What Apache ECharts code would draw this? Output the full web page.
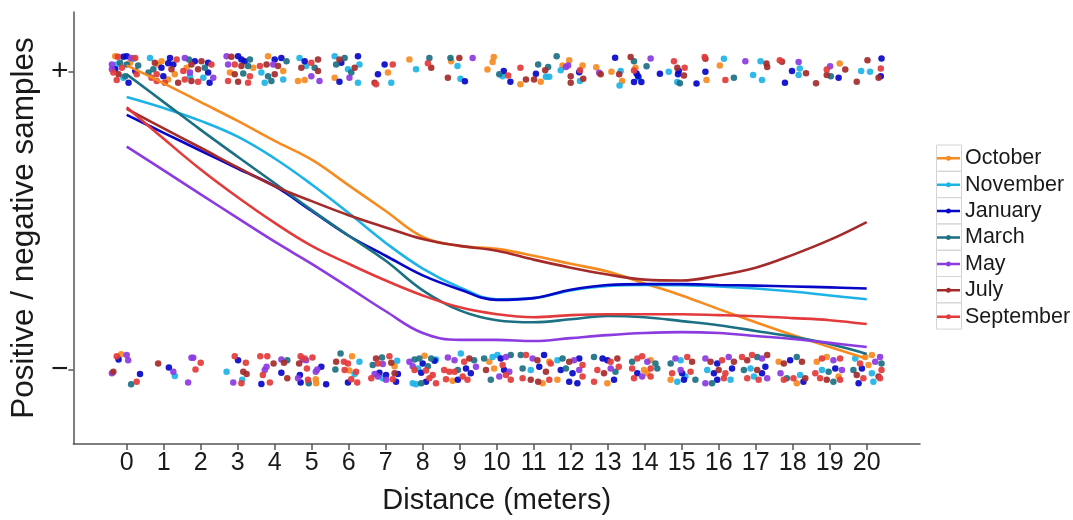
<!DOCTYPE html>
<html><head><meta charset="utf-8">
<script src="https://cdn.jsdelivr.net/npm/echarts@6/dist/echarts.min.js"></script>
<style>html,body{margin:0;padding:0;background:#fff}#c{width:1073px;height:520px}</style>
</head><body><div id="c"></div>
<script>
const months = ['October','November','January','March','May','July','September'];
const monthColors = ['#F68B1F','#1DB3E6','#0707C8','#1B7083','#8B3BDF','#A52A2A','#E33B3B'];
const distance = [0,1,2,3,4,5,6,7,8,9,10,11,12,13,14,15,16,17,18,19,20];
const yTickValues = [0, 1];
const yTickLabels = ['−', '+'];

// smoothed fits (probability of positive sample) at each distance
const octoberFit   = [1.020,0.960,0.897,0.834,0.767,0.704,0.618,0.532,0.445,0.415,0.405,0.382,0.355,0.329,0.289,0.249,0.203,0.159,0.116,0.076,0.037];
const novemberFit  = [0.914,0.877,0.834,0.781,0.708,0.621,0.525,0.425,0.339,0.276,0.236,0.240,0.266,0.281,0.284,0.283,0.279,0.272,0.262,0.249,0.236];
const januaryFit   = [0.854,0.794,0.734,0.674,0.615,0.532,0.449,0.382,0.316,0.269,0.234,0.240,0.268,0.284,0.287,0.287,0.284,0.282,0.279,0.276,0.272];
const marchFit     = [0.990,0.897,0.804,0.714,0.625,0.535,0.449,0.365,0.266,0.199,0.166,0.159,0.169,0.180,0.176,0.163,0.149,0.130,0.110,0.086,0.053];
const mayFit       = [0.748,0.668,0.588,0.508,0.429,0.355,0.276,0.196,0.123,0.100,0.100,0.096,0.106,0.116,0.123,0.126,0.123,0.113,0.103,0.090,0.076];
const julyFit      = [0.874,0.809,0.744,0.678,0.615,0.565,0.518,0.477,0.438,0.415,0.399,0.369,0.342,0.319,0.302,0.299,0.316,0.342,0.385,0.435,0.495];
const septemberFit = [0.880,0.774,0.671,0.578,0.492,0.415,0.355,0.299,0.249,0.209,0.186,0.176,0.183,0.186,0.186,0.186,0.183,0.179,0.173,0.166,0.153];

// jittered observations: positive samples (near 1) and negative samples (near 0)
const octoberPos = [[-0.31,1.051],[0.09,1.029],[0.85,1.023],[1.12,0.973],[1.30,0.990],[0.94,1.034],[1.62,1.012],[3.42,1.012],[2.79,0.996],[3.82,1.051],[4.23,1.001],[4.63,0.968],[4.81,0.971],[5.62,0.979],[7.06,0.996],[7.64,1.040],[8.77,1.034],[9.75,1.006],[9.89,1.031],[9.92,1.048],[10.64,0.957],[11.19,0.965],[11.78,1.020],[11.96,1.037],[12.32,1.020],[12.69,1.014],[13.10,0.999],[13.39,0.968],[13.75,1.012],[15.67,0.971],[16.03,1.020],[19.27,1.026]];
const octoberNeg = [[-0.15,0.052],[5.11,-0.032],[5.12,-0.045],[6.09,0.045],[6.02,-0.003],[7.24,0.012],[8.05,0.047],[8.81,-0.037],[9.80,0.027],[9.93,0.004],[11.42,0.027],[11.24,-0.045],[11.64,-0.034],[12.99,-0.045],[14.16,0.032],[13.98,-0.001],[14.07,-0.012],[14.70,-0.034],[17.62,0.027],[18.11,-0.045],[18.65,0.027],[18.92,0.043],[19.24,-0.023],[19.96,0.043],[20.14,0.049],[20.05,0.016]];
const novemberPos = [[-0.27,1.023],[-0.09,0.979],[0.18,1.042],[0.63,1.045],[1.71,0.984],[2.07,0.979],[3.64,0.996],[3.73,0.962],[4.23,0.973],[4.67,1.045],[4.85,1.018],[5.62,1.051],[5.98,1.007],[6.29,1.023],[6.25,0.962],[7.15,0.962],[7.82,1.007],[8.94,1.018],[9.02,0.975],[10.16,0.984],[11.33,0.982],[11.42,0.982],[11.73,1.004],[12.25,0.968],[13.35,1.001],[13.32,0.953],[13.84,0.979],[14.65,0.999],[14.88,0.964],[16.14,1.042],[16.93,0.988],[17.13,1.034],[17.17,0.971],[18.19,1.010],[18.16,0.988],[19.85,1.001],[20.09,0.999]];
const novemberNeg = [[1.30,-0.021],[2.70,-0.007],[3.12,-0.034],[6.29,0.027],[6.16,-0.014],[7.31,0.030],[6.92,-0.029],[8.36,0.034],[7.87,0.004],[7.73,-0.045],[7.82,-0.049],[9.03,0.054],[9.89,0.043],[10.02,0.049],[10.92,-0.001],[11.64,0.032],[14.97,0.032],[15.10,-0.023],[14.88,-0.040],[15.69,-0.001],[16.32,-0.034],[16.86,0.004],[16.95,-0.023],[18.20,-0.018],[18.79,-0.001],[19.69,0.038],[20.14,-0.012],[20.18,-0.040]];
const januaryPos = [[-0.31,1.007],[-0.09,1.049],[0.00,1.051],[0.05,0.962],[0.23,1.001],[0.94,1.012],[0.99,0.984],[1.12,1.027],[1.17,1.045],[1.26,1.023],[1.84,1.034],[2.20,1.029],[2.20,0.996],[2.24,0.962],[3.01,1.051],[3.10,1.040],[3.19,1.034],[4.00,1.040],[4.18,1.045],[4.81,1.034],[5.75,0.965],[5.80,1.029],[6.25,1.051],[6.79,0.990],[6.97,1.023],[9.14,0.967],[10.19,1.001],[10.37,0.965],[11.06,0.992],[12.23,0.997],[13.20,1.046],[13.71,0.964],[13.78,0.993],[13.82,0.984],[13.91,0.964],[14.41,0.992],[14.90,0.990],[14.92,1.001],[15.40,0.959],[15.64,0.999],[17.79,0.962],[17.98,1.001],[19.24,0.979],[20.38,0.984],[20.40,1.043]];
const januaryNeg = [[-0.22,0.034],[0.36,-0.014],[1.14,0.007],[3.01,0.032],[3.64,-0.048],[4.18,-0.010],[4.68,-0.018],[4.70,-0.043],[5.26,0.010],[5.39,-0.049],[5.98,-0.043],[6.83,-0.010],[7.01,-0.018],[7.28,-0.040],[7.33,-0.014],[7.96,-0.010],[8.00,0.021],[8.09,-0.040],[8.32,0.030],[8.95,-0.034],[9.17,0.004],[9.30,-0.012],[10.11,0.038],[10.20,-0.001],[11.15,0.010],[11.28,0.049],[11.73,-0.001],[11.96,-0.040],[12.05,-0.012],[12.18,-0.045],[12.23,0.038],[12.86,0.038],[12.99,0.032],[13.17,-0.034],[13.80,-0.012],[15.01,-0.012],[15.06,-0.034],[15.87,-0.012],[15.96,0.021],[15.96,-0.034],[16.36,0.004],[17.17,-0.012],[17.26,0.010],[17.93,0.032],[18.29,-0.040],[19.15,0.004],[19.78,-0.045],[19.87,0.004]];
const marchPos = [[-0.18,1.029],[-0.04,0.984],[0.00,1.023],[0.31,1.020],[0.59,0.996],[0.72,1.007],[1.68,1.040],[2.11,1.012],[3.15,0.993],[3.28,1.018],[3.33,1.040],[3.82,0.984],[3.91,0.968],[4.32,1.034],[5.08,1.012],[5.66,1.023],[5.89,1.045],[6.07,0.996],[8.18,1.045],[8.75,1.045],[10.07,0.990],[11.12,1.023],[11.39,1.015],[11.62,1.051],[13.71,1.034],[14.05,1.017],[14.95,0.960],[16.41,0.979],[19.03,0.984]];
const marchNeg = [[0.12,-0.049],[4.34,0.032],[4.92,-0.045],[5.64,0.001],[5.78,0.054],[6.65,0.016],[6.90,0.041],[7.78,0.034],[7.91,0.038],[7.96,-0.045],[8.14,0.012],[8.23,0.038],[8.95,-0.001],[9.39,0.032],[9.66,0.038],[9.84,-0.034],[10.38,0.049],[10.65,0.049],[10.70,0.004],[11.78,0.038],[11.87,0.004],[12.63,0.043],[13.21,-0.007],[13.66,0.027],[14.29,0.021],[14.34,0.004],[14.70,0.021],[15.37,-0.034],[15.82,-0.045],[16.68,-0.001],[17.04,0.043],[17.84,-0.029],[18.11,0.043],[18.97,-0.007],[19.10,-0.040],[19.64,-0.001],[20.40,0.021]];
const mayPos = [[-0.40,1.023],[-0.40,1.007],[0.12,1.045],[1.57,1.045],[1.71,0.996],[2.34,0.979],[2.70,1.051],[2.74,1.023],[3.96,1.023],[4.99,0.984],[5.21,0.968],[6.02,0.979],[9.35,1.045],[11.87,1.015],[11.93,1.020],[12.77,0.995],[14.16,1.043],[16.72,1.034],[18.16,1.031],[19.01,1.017]];
const mayNeg = [[-0.40,-0.012],[0.00,0.049],[0.04,0.032],[1.26,-0.007],[1.66,-0.043],[1.75,0.040],[1.80,0.040],[2.88,-0.043],[3.73,-0.001],[3.78,0.010],[4.18,0.034],[4.63,-0.029],[4.76,0.034],[4.85,0.032],[5.11,-0.007],[5.15,0.001],[6.70,-0.014],[6.79,-0.023],[6.92,0.019],[7.01,-0.034],[7.64,0.027],[7.73,0.012],[8.68,0.041],[8.86,0.032],[9.44,0.010],[10.07,-0.023],[10.25,0.043],[10.34,-0.007],[10.97,0.038],[12.09,0.032],[12.23,-0.001],[13.08,0.004],[13.93,-0.023],[14.07,0.027],[14.83,0.038],[14.97,-0.001],[15.64,0.038],[15.64,-0.045],[16.27,0.043],[17.17,0.038],[17.31,-0.029],[17.67,-0.012],[19.10,0.032],[19.33,-0.001],[20.23,0.027],[20.36,0.043]];
const julyPos = [[-0.22,0.990],[0.76,1.029],[1.21,1.007],[1.39,0.962],[1.75,1.023],[1.75,0.968],[1.93,1.007],[2.02,1.034],[2.83,1.049],[2.92,0.990],[3.01,0.965],[3.10,1.018],[3.78,1.023],[4.00,0.990],[4.09,1.018],[4.72,1.012],[5.17,1.040],[5.17,1.001],[5.75,1.040],[6.16,1.012],[6.70,0.962],[8.23,1.012],[8.68,0.979],[8.99,1.045],[10.79,0.973],[11.01,0.973],[11.31,1.004],[12.00,0.984],[12.00,0.962],[12.34,0.975],[12.81,0.990],[13.31,0.990],[13.62,1.048],[14.88,1.012],[15.06,0.986],[15.64,1.042],[17.29,1.026],[17.31,1.015],[17.71,1.032],[18.36,0.994],[18.63,0.960],[18.92,0.988],[19.42,1.006],[19.73,0.965],[20.02,1.037],[20.32,0.979]];
const julyNeg = [[-0.36,-0.007],[0.85,0.021],[3.15,-0.007],[3.24,-0.014],[3.97,0.021],[4.25,0.023],[4.34,-0.029],[4.66,0.021],[5.66,0.027],[6.74,0.038],[7.15,0.023],[7.24,-0.012],[9.26,0.038],[9.71,-0.001],[10.92,-0.034],[11.10,0.032],[11.12,-0.040],[11.33,-0.007],[11.96,0.027],[12.90,-0.012],[13.26,0.038],[15.28,0.027],[15.78,0.027],[16.00,-0.001],[16.41,0.027],[16.77,0.032],[17.04,-0.001],[17.31,0.049],[17.76,0.021],[18.25,0.027],[18.34,-0.029],[18.92,-0.034],[19.73,-0.018],[20.32,-0.023]];
const septemberPos = [[-0.36,0.996],[-0.27,0.971],[-0.24,1.049],[-0.13,1.012],[0.23,1.045],[0.27,0.990],[0.67,0.979],[0.81,0.990],[0.81,0.968],[1.03,0.962],[1.35,1.040],[1.53,1.001],[1.57,0.973],[1.93,0.965],[2.29,1.023],[2.74,0.968],[2.92,1.023],[3.28,0.962],[3.33,0.984],[3.60,1.018],[4.99,1.029],[6.74,0.957],[7.19,1.023],[8.14,1.027],[10.31,0.986],[10.64,1.012],[12.25,1.004],[13.71,1.003],[14.79,1.034],[15.08,1.012],[15.62,1.048],[16.18,0.971],[17.65,1.037],[18.92,1.006],[20.38,1.010]];
const septemberNeg = [[-0.27,0.045],[0.27,-0.040],[1.86,0.001],[2.00,0.023],[2.92,0.045],[3.22,0.023],[3.10,-0.045],[3.61,0.045],[3.80,0.045],[3.87,-0.043],[3.68,-0.018],[4.70,0.045],[4.81,0.038],[5.02,0.041],[4.87,0.004],[4.90,-0.034],[5.87,0.027],[5.98,0.021],[5.89,-0.001],[6.20,-0.007],[6.07,-0.032],[6.23,-0.043],[7.10,0.045],[6.79,0.021],[6.61,-0.029],[7.19,-0.032],[7.78,-0.001],[8.09,-0.003],[8.27,-0.018],[8.36,-0.045],[8.18,-0.029],[8.58,-0.001],[8.72,-0.007],[8.86,-0.007],[8.63,-0.032],[9.12,0.027],[9.08,-0.023],[9.21,-0.034],[10.25,-0.018],[10.38,-0.034],[10.16,0.016],[10.79,0.049],[10.70,-0.029],[11.42,-0.034],[11.46,0.021],[12.32,0.016],[12.32,-0.023],[13.08,0.027],[12.72,-0.001],[12.63,-0.040],[13.30,0.010],[13.80,0.038],[13.93,0.045],[13.66,0.004],[14.16,0.004],[13.71,-0.029],[14.16,-0.023],[15.15,0.043],[14.74,-0.012],[15.24,-0.007],[16.09,0.032],[16.18,-0.012],[16.14,-0.029],[16.63,0.043],[16.90,0.049],[16.77,-0.029],[17.08,-0.034],[18.02,-0.029],[17.76,-0.034],[18.79,0.038],[19.28,0.038],[18.61,-0.012],[18.74,-0.029],[19.28,-0.034],[19.82,0.021],[20.40,-0.001],[19.91,-0.029],[20.36,-0.029]];

const fitValues = [octoberFit, novemberFit, januaryFit, marchFit, mayFit, julyFit, septemberFit];
const posPoints = [octoberPos, novemberPos, januaryPos, marchPos, mayPos, julyPos, septemberPos];
const negPoints = [octoberNeg, novemberNeg, januaryNeg, marchNeg, mayNeg, julyNeg, septemberNeg];

const FONT = "'Liberation Sans', Arial, Helvetica, sans-serif";

const series = [];
months.forEach((m, i) => {
  series.push({
    name: m, type: 'line', smooth: 0.4, symbol: 'circle', showSymbol: false, z: 5,
    data: distance.map((d, k) => [d, fitValues[i][k]]),
    lineStyle: { color: monthColors[i], width: 2.6 },
    itemStyle: { color: monthColors[i] },
    emphasis: { disabled: true }, silent: true
  });
});
months.forEach((m, i) => {
  series.push({
    name: m, type: 'scatter', z: 2, symbolSize: 6.5,
    data: posPoints[i].concat(negPoints[i]),
    itemStyle: { color: monthColors[i], opacity: 0.92 },
    emphasis: { disabled: true }, silent: true
  });
});

const chart = echarts.init(document.getElementById('c'), null, { renderer: 'canvas' });
chart.setOption({
  animation: false,
  backgroundColor: '#ffffff',
  grid: { left: 71, right: 153, top: 12, bottom: 72, containLabel: false },
  xAxis: {
    type: 'value', min: -1.44, max: 21.44,
    name: 'Distance (meters)', nameLocation: 'middle', nameGap: 42,
    nameTextStyle: { fontSize: 29, fontFamily: FONT, color: '#1a1a1a' },
    axisLine: { onZero: false, lineStyle: { color: '#555', width: 1.5 } },
    axisTick: { customValues: distance, length: 6, lineStyle: { color: '#555', width: 1.5 } },
    axisLabel: { customValues: distance, margin: 7, fontSize: 25, fontFamily: FONT, color: '#1a1a1a' },
    splitLine: { show: false }
  },
  yAxis: {
    type: 'value', min: -0.249, max: 1.199,
    name: 'Positive / negative samples', nameLocation: 'middle', nameGap: 30,
    nameTextStyle: { fontSize: 31.5, fontFamily: FONT, color: '#1a1a1a' },
    axisLine: { onZero: false, lineStyle: { color: '#555', width: 1.5 } },
    axisTick: { customValues: yTickValues, length: 5, lineStyle: { color: '#555', width: 1.5 } },
    axisLabel: { customValues: yTickValues, margin: 5, fontSize: 30, fontFamily: FONT, color: '#1a1a1a',
      formatter: v => yTickLabels[yTickValues.indexOf(Math.round(v))] },
    splitLine: { show: false }
  },
  legend: {
    orient: 'vertical', left: 937, top: 147.3, padding: 0,
    itemGap: 4.4, itemWidth: 23, itemHeight: 5, itemTextGap: 5,
    icon: 'path://M0,1.25 L23,1.25 L23,3.75 L0,3.75 Z M11.5,0 A2.5,2.5 0 1 1 11.49,0 Z',
    itemStyle: { borderWidth: 0 },
    textStyle: { fontSize: 21.5, fontFamily: FONT, color: '#1a1a1a', lineHeight: 20 },
    data: months
  },
  graphic: months.map((m, i) => ({
    type: 'rect', silent: true, z: 0,
    shape: { x: 936.5, y: 145 + i * 26.3, width: 25, height: 26.3 },
    style: { fill: 'none', stroke: '#d4d4d4', lineWidth: 1 }
  })),
  series: series
});
</script>
</body></html>
